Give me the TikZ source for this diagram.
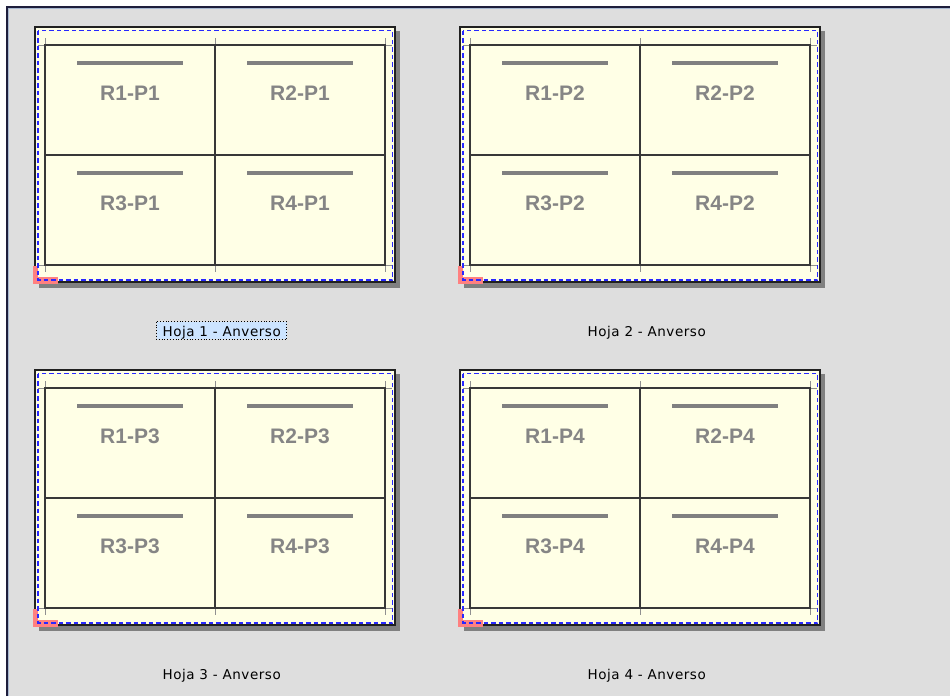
\documentclass[tikz,border=0pt]{standalone}
\usepackage{fontspec}
\setmainfont{Liberation Sans}
\newfontfamily\labelfont[LetterSpace=4]{DejaVu Sans}
\definecolor{bg}{HTML}{DEDEDE}
\definecolor{framedark}{HTML}{1E1E3C}
\definecolor{framelight}{HTML}{A8B8D0}
\definecolor{shadowgrey}{HTML}{808080}
\definecolor{paper}{HTML}{FFFFE6}
\definecolor{sheetborder}{HTML}{202020}
\definecolor{gridcol}{HTML}{383838}
\definecolor{tickgrey}{HTML}{909090}
\definecolor{pinkmark}{HTML}{FF8080}
\definecolor{dashblue}{HTML}{2828FF}
\definecolor{textgrey}{HTML}{858585}
\definecolor{selblue}{HTML}{CCE4FF}
\tikzset{
  sheetbox/.style={fill=paper, draw=sheetborder, line width=1.5pt},
  gridline/.style={draw=gridcol, line width=1.2pt},
  cropmark/.style={draw=tickgrey, line width=1pt},
  bluedash/.style={draw=dashblue, line width=1.6pt, dash pattern=on 4.5pt off 3pt},
  titlebar/.style={draw=shadowgrey, line width=4pt},
  celltext/.style={text=textgrey, font=\fontsize{21}{21}\selectfont\bfseries, anchor=base, inner sep=0pt},
  sheetlabel/.style={font=\labelfont\fontsize{13.5}{14}\selectfont, anchor=base, inner sep=0pt, text=black}
}
\begin{document}
\begin{tikzpicture}[x=1pt,y=-1pt]
\useasboundingbox (0,0) rectangle (950,696);
\fill[white] (0,0) rectangle (950,696);
\fill[bg] (7,7) rectangle (950,696);
\draw[framedark, line width=1.5pt] (6.75,696) -- (6.75,6.75) -- (950,6.75);
\draw[framelight, line width=1pt] (8.5,696) -- (8.5,8.5) -- (950,8.5);

\foreach \sx/\sy/\p in {0/0/1, 425/0/2, 0/343/3, 425/343/4} {
  \begin{scope}[shift={(\sx,\sy)}]
    \fill[shadowgrey] (39,31) rectangle (400,288);
    \path[sheetbox] (35,27) rectangle (395,282);
    % crop marks
    \foreach \tx in {45,215,385} {
      \draw[cropmark] (\tx,38) -- (\tx,45);
      \draw[cropmark] (\tx,265) -- (\tx,272);
    }
    \draw[cropmark] (38,45) -- (45,45);
    \draw[cropmark] (385,45) -- (392,45);
    \draw[cropmark] (38,265) -- (45,265);
    \draw[cropmark] (385,265) -- (392,265);
    % grid
    \draw[gridline] (45,45) rectangle (385,265);
    \draw[gridline] (215,45) -- (215,265);
    \draw[gridline] (45,155) -- (385,155);
    % pink corner
    \fill[pinkmark] (32.5,265.5) rectangle (38,284);
    \fill[pinkmark] (32.5,276.5) rectangle (58,284);
    % blue dashed margin
    \draw[bluedash] (38,30.5) rectangle (392.5,280);
    % cells
    \foreach \r/\cx/\cy in {1/130/45, 2/300/45, 3/130/155, 4/300/155} {
      \draw[titlebar] ({\cx-53},{\cy+18}) -- ({\cx+53},{\cy+18});
      \node[celltext] (cell\p-\r) at (\cx,{\cy+55}) {R\r-P\p};
    }
  \end{scope}
}

% selection highlight on first label
\draw[fill=selblue, draw=black, dotted, line width=0.8pt] (156.7,321.7) rectangle (286.7,339.3);
\node[sheetlabel] (lab1) at (221.7,336.8) {Hoja 1 - Anverso};
\node[sheetlabel] (lab2) at (646.7,336.8) {Hoja 2 - Anverso};
\node[sheetlabel] (lab3) at (221.7,679.8) {Hoja 3 - Anverso};
\node[sheetlabel] (lab4) at (646.7,679.8) {Hoja 4 - Anverso};
\end{tikzpicture}
\end{document}
